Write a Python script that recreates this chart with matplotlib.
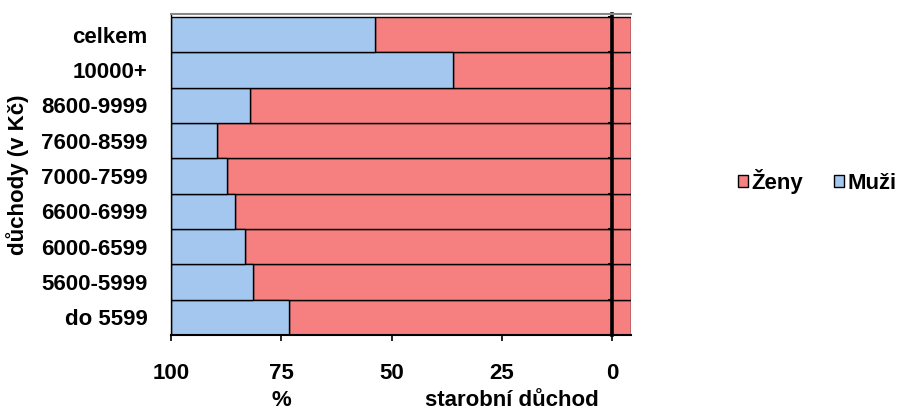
import matplotlib
matplotlib.use("Agg")
import matplotlib.pyplot as plt
from matplotlib.patches import Patch
from matplotlib.ticker import FixedLocator

plt.rcParams['font.family'] = ['Liberation Sans', 'DejaVu Sans']
plt.rcParams['font.weight'] = 'bold'

# income bands of old-age pension (bottom to top)
categories = ["do 5599", "5600-5999", "6000-6599", "6600-6999", "7000-7599",
              "7600-8599", "8600-9999", "10000+", "celkem"]
# share of women in each band, %
zeny = [73.3, 81.5, 83.2, 85.5, 87.3, 89.6, 82.1, 36.1, 53.8]
# share of men in each band, %
muzi = [26.7, 18.5, 16.8, 14.5, 12.7, 10.4, 17.9, 63.9, 46.2]
xticks = [100, 75, 50, 25, 0]

blue = "#A3C7EF"
red = "#F67F7F"
x_min, x_max = 100, -4.2
FS = 16

fig = plt.figure(figsize=(9, 4.12), dpi=100)
ax = fig.add_axes([0.19, 0.187, 0.511, 0.779])

# vertical axis line crossing at zero (set before tick labels, it resets ticks)
ax.spines["right"].set_position(("data", 0))
ax.spines["right"].set_linewidth(2.6)

y = list(range(len(categories)))
# women: from the right edge of the axes up to their share
ax.barh(y, [z - x_max for z in zeny], left=x_max, height=1.0,
        color=red, edgecolor="black", linewidth=1.0)
# men: stacked on top of the women's share, up to 100 %
ax.barh(y, muzi, left=zeny, height=1.0,
        color=blue, edgecolor="black", linewidth=1.0)

ax.set_xlim(x_min, x_max)
ax.set_ylim(-0.5, 8.58)
ax.set_xticks(xticks)
ax.set_xticklabels([str(t) for t in xticks], fontsize=FS, fontweight="bold")
ax.set_yticks(y)
ax.set_yticklabels(categories, fontsize=FS, fontweight="bold")
ax.tick_params(axis="y", which="major", length=0, pad=17)
ax.tick_params(axis="x", length=4, width=1.2, direction="out", pad=16)

# small category marks on the zero line
ax.yaxis.set_minor_locator(FixedLocator([i - 0.5 for i in range(len(categories) + 1)]))
ax.tick_params(axis="y", which="minor", left=False, right=True,
               direction="in", length=3, width=1.5)
ax.spines["top"].set_color("#888888")
ax.spines["top"].set_linewidth(1.5)
ax.spines["left"].set_linewidth(1.0)
ax.spines["bottom"].set_linewidth(1.5)

fig.text(18 / 900, 0.575, "důchody (v Kč)", rotation=90, ha="center",
         va="center", fontsize=FS, fontweight="bold")
fig.text(281 / 900, 0.027, "%", ha="center", va="center",
         fontsize=FS, fontweight="bold")
fig.text(512 / 900, 0.027, "starobní důchod", ha="center", va="center",
         fontsize=FS, fontweight="bold")

handles = [Patch(facecolor=red, edgecolor="black", linewidth=1.0),
           Patch(facecolor=blue, edgecolor="black", linewidth=1.0)]
fig.legend(handles, ["Ženy", "Muži"], loc="center left",
           bbox_to_anchor=(0.82, 0.56), ncol=2, frameon=False,
           handlelength=0.45, handleheight=0.45, handletextpad=0.15,
           columnspacing=1.4, borderpad=0.0, borderaxespad=0.0,
           prop={"size": FS, "weight": "bold"})

fig.savefig("out.png", dpi=100)
